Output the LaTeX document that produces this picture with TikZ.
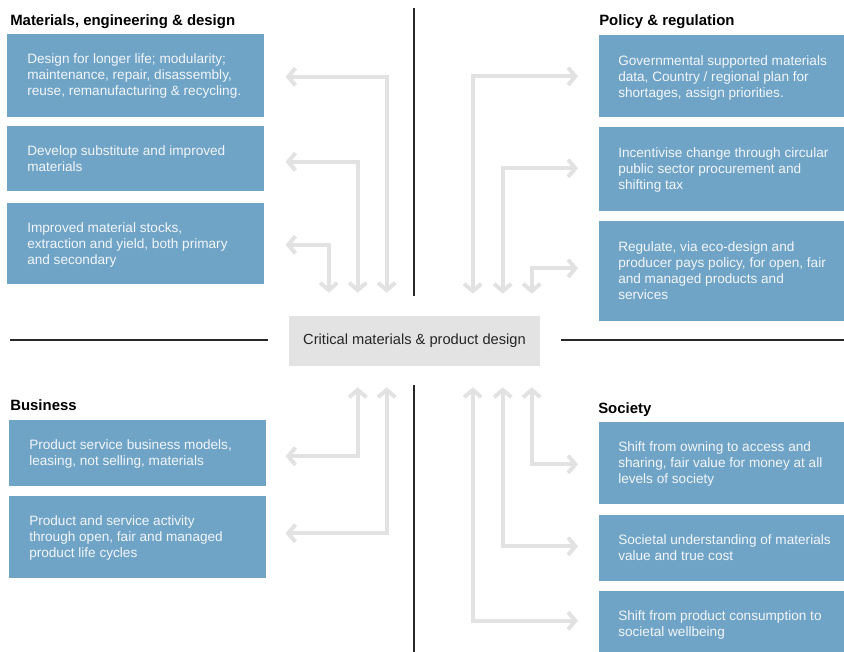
\documentclass[tikz,border=0pt]{standalone}
\usepackage{fontspec}
\setmainfont{Liberation Sans}
\usetikzlibrary{arrows.meta,calc}
\definecolor{boxblue}{RGB}{111,164,198}
\definecolor{boxtext}{RGB}{242,246,250}
\definecolor{arrowgrey}{RGB}{226,226,226}
\definecolor{centregrey}{RGB}{227,227,227}
\definecolor{rulegrey}{RGB}{40,40,40}
\begin{document}
\begin{tikzpicture}[x=0.75pt,y=-0.75pt,
  panel/.style={fill=boxblue,draw=none,anchor=north west,inner sep=0pt},
  lpanel/.style={panel,minimum width=192.75pt},
  rpanel/.style={panel,minimum width=183.75pt},
  paneltext/.style={anchor=north west,inner sep=0pt,align=left,text=boxtext,
    font=\fontsize{10.2}{12.2}\selectfont},
  heading/.style={anchor=base west,inner sep=0pt,font=\fontsize{11.2}{13}\selectfont\bfseries},
  centre/.style={fill=centregrey,draw=none,minimum width=188.25pt,minimum height=37.5pt,
    inner sep=0pt,text=black!85,font=\fontsize{11}{13}\selectfont},
  divider/.style={draw=rulegrey,line width=0.8pt},
  tipend/.tip={Straight Barb[length=5.5pt,width=13pt,line width=3pt]},
  link/.style={draw=arrowgrey,line width=3pt,tipend-tipend}
]
\useasboundingbox (0,0) rectangle (844,652);

% quadrant dividers
\draw[divider] (414,8) -- (414,296);
\draw[divider] (414,385) -- (414,652);
\draw[divider] (10,340) -- (268,340);
\draw[divider] (561,340) -- (844,340);

% centre
\node[centre] (C) at (414.5,341) {Critical materials \& product design};

% Materials, engineering & design
\node[heading] (hMat) at (10,26) {Materials, engineering \& design};
\node[lpanel,minimum height=62.25pt] (L1) at (7,34) {};
\node[paneltext] (L1t) at ($(L1.north west)+(20,19)$) {Design for longer life; modularity;\\maintenance, repair, disassembly,\\reuse, remanufacturing \& recycling.};
\node[lpanel,minimum height=48.75pt] (L2) at (7,126) {};
\node[paneltext] (L2t) at ($(L2.north west)+(20,19)$) {Develop substitute and improved\\materials};
\node[lpanel,minimum height=60.75pt] (L3) at (7,203) {};
\node[paneltext] (L3t) at ($(L3.north west)+(20,19)$) {Improved material stocks,\\extraction and yield, both primary\\and secondary};

% Policy & regulation
\node[heading] (hPol) at (599,26) {Policy \& regulation};
\node[rpanel,minimum height=61.5pt] (R1) at (599,35) {};
\node[paneltext] (R1t) at ($(R1.north west)+(19,20)$) {Governmental supported materials\\data, Country / regional plan for\\shortages, assign priorities.};
\node[rpanel,minimum height=63pt] (R2) at (599,127) {};
\node[paneltext] (R2t) at ($(R2.north west)+(19,20)$) {Incentivise change through circular\\public sector procurement and\\shifting tax};
\node[rpanel,minimum height=75pt] (R3) at (599,221) {};
\node[paneltext] (R3t) at ($(R3.north west)+(19,20)$) {Regulate, via eco-design and\\producer pays policy, for open, fair\\and managed products and\\services};

% Business
\node[heading] (hBus) at (10,411) {Business};
\node[lpanel,minimum height=49.5pt] (B1) at (9,420) {};
\node[paneltext] (B1t) at ($(B1.north west)+(20,19)$) {Product service business models,\\leasing, not selling, materials};
\node[lpanel,minimum height=61.5pt] (B2) at (9,496) {};
\node[paneltext] (B2t) at ($(B2.north west)+(20,19)$) {Product and service activity\\through open, fair and managed\\product life cycles};

% Society
\node[heading] (hSoc) at (598,414) {Society};
\node[rpanel,minimum height=61.5pt] (S1) at (599,422) {};
\node[paneltext] (S1t) at ($(S1.north west)+(19,19)$) {Shift from owning to access and\\sharing, fair value for money at all\\levels of society};
\node[rpanel,minimum height=49.5pt] (S2) at (599,515) {};
\node[paneltext] (S2t) at ($(S2.north west)+(19,19)$) {Societal understanding of materials\\value and true cost};
\node[rpanel,minimum height=45.75pt] (S3) at (599,591) {};
\node[paneltext] (S3t) at ($(S3.north west)+(19,19)$) {Shift from product consumption to\\societal wellbeing};

% two-way links between the centre and each panel
\draw[link] ($(L1.east)+(21,1)$) -| ($(C.north west)+(98,-23)$);
\draw[link] ($(L2.east)+(21,3)$) -| ($(C.north west)+(69,-23)$);
\draw[link] ($(L3.east)+(21,1)$) -| ($(C.north west)+(40,-23)$);

\draw[link] ($(R1.west)+(-21,0)$) -| ($(C.north west)+(184,-22)$);
\draw[link] ($(R2.west)+(-21,-1)$) -| ($(C.north west)+(214,-22)$);
\draw[link] ($(R3.west)+(-21,-3)$) -| ($(C.north west)+(243,-22)$);

\draw[link] ($(B1.east)+(19,3)$) -| ($(C.south west)+(69,21)$);
\draw[link] ($(B2.east)+(19,-4)$) -| ($(C.south west)+(98,21)$);

\draw[link] ($(S1.west)+(-21,1)$) -| ($(C.south west)+(243,21)$);
\draw[link] ($(S2.west)+(-21,-2)$) -| ($(C.south west)+(214,21)$);
\draw[link] ($(S3.west)+(-21,-1)$) -| ($(C.south west)+(184,21)$);
\end{tikzpicture}
\end{document}
